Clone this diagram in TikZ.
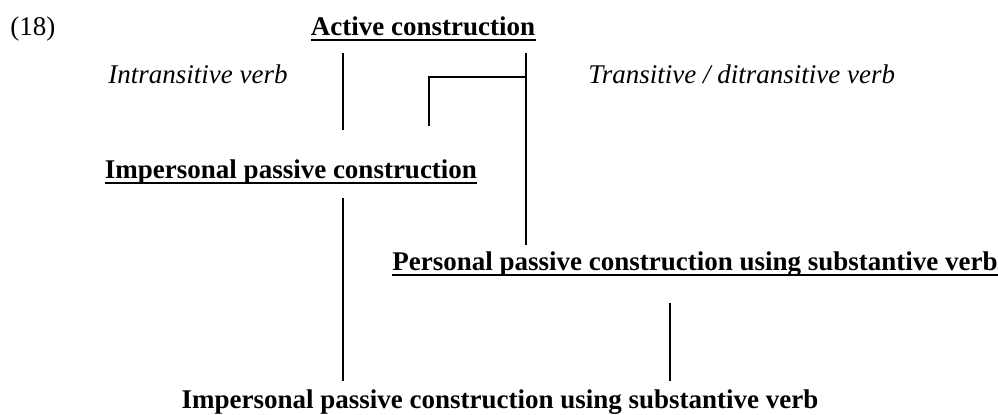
\documentclass[tikz,border=0pt]{standalone}
\usepackage{fontspec}
\setmainfont{Liberation Serif}
\tikzset{
  constr/.style={font=\fontsize{13.5}{16}\selectfont\bfseries, inner sep=0pt, anchor=base},
  verbtype/.style={font=\fontsize{13.5}{16}\selectfont\itshape, inner sep=0pt, anchor=base west},
  ulin/.style={line width=1pt},
  link/.style={line width=0.6pt}
}
\begin{document}
\begin{tikzpicture}[x=0.5pt,y=-0.5pt]
            \useasboundingbox (0,0) rectangle (998,414);
            % labels
            \node[anchor=base west, inner sep=0pt, font=\fontsize{13.5}{16}\selectfont] (num) at (10,35) {(18)};
            \node[constr] (active) at (423,35) {Active construction};
            \node[verbtype] (intrans) at (108,83) {Intransitive verb};
            \node[verbtype] (trans) at (588,83) {Transitive / ditransitive verb};
            \node[constr] (imp) at (291,178) {Impersonal passive construction};
            \node[constr] (pers) at (695,270) {Personal passive construction using substantive verb};
            \node[constr] (impsub) at (500,408) {Impersonal passive construction using substantive verb};
            % underlines
            \foreach \n in {active, imp, pers}
                \draw[ulin] ([yshift=-2.5pt]\n.base west) -- ([yshift=-2.5pt]\n.base east);
            % line ends
            \coordinate (act-l) at (343,53);
            \coordinate (imp-t) at (343,130);
            \coordinate (act-r) at (526,53);
            \coordinate (pers-t) at (526,245);
            \coordinate (br-r) at (526,77);
            \coordinate (br-b) at (429,126);
            \coordinate (imp-b) at (343,198);
            \coordinate (sub-l) at (343,381);
            \coordinate (pers-b) at (670,303);
            \coordinate (sub-r) at (670,381);
            % connectors
            \draw[link] (act-l) -- (imp-t);
            \draw[link] (act-r) -- (pers-t);
            \draw[link] (br-r) -| (br-b);
            \draw[link] (imp-b) -- (sub-l);
            \draw[link] (pers-b) -- (sub-r);
        \end{tikzpicture}
\end{document}
